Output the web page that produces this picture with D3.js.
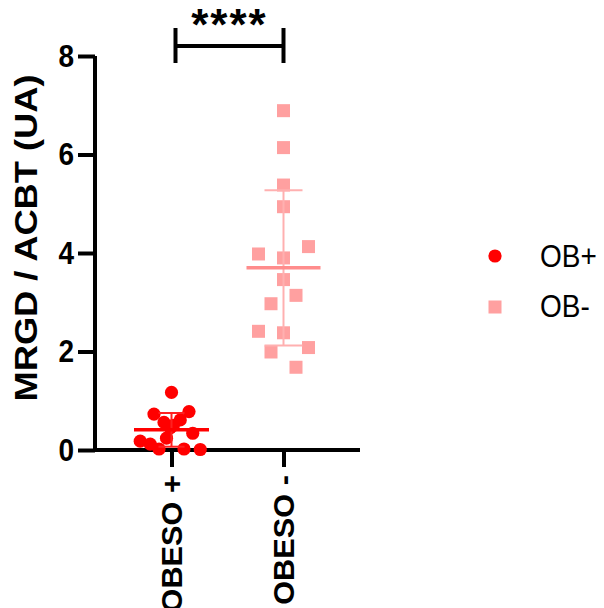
<!DOCTYPE html>
<html>
<head>
<meta charset="utf-8">
<script src="https://cdn.jsdelivr.net/npm/d3@7"></script>
<style>
  html, body { margin: 0; padding: 0; background: #fff; }
  svg { display: block; font-family: "Liberation Sans", Arial, sans-serif; }
</style>
</head>
<body>
<svg id="chart" width="604" height="608"></svg>
<script>
// ---- data ----
const categories = ["OBESO +", "OBESO -"];
const seriesNames = ["OB+", "OB-"];
const obPlusValues = [1.17, 0.78, 0.73, 0.61, 0.56, 0.50, 0.45, 0.34, 0.24, 0.18, 0.12, 0.02, 0.02, 0.01];
const obPlusJitter = [0, 1.4, -1.4, 0.7, -0.6, 0.15, -0.1, 1.7, -0.4, -2.5, -1.7, -1.0, 1.0, 2.3];
const obMinusValues = [6.89, 6.14, 5.38, 4.94, 4.13, 3.98, 3.90, 3.46, 3.14, 2.97, 2.41, 2.38, 2.08, 1.99, 1.68];
const obMinusJitter = [0, 0, 0, 0, 2, -2, 0, 0, 1, -1, -2, 0, 2, -1, 1];
const yTicks = [0, 2, 4, 6, 8];
const yTitle = "MRGD / ACBT (UA)";
const significance = "****";

const svg = d3.select("#chart");
const font = "'Liberation Sans', Arial, sans-serif";
const vStretch = 1.14;

const y = d3.scaleLinear().domain([0, 8]).range([450, 56]);
const x = d3.scalePoint().domain(categories).range([95, 360]).padding(0.683);
const jitterUnit = 12.5;

const colors = { "OB+": "#ff0000", "OB-": "#ffa0a0" };

// axes
const yAxis = d3.axisLeft(y).tickValues(yTicks).tickSize(17).tickSizeOuter(0).tickPadding(4);
const gy = svg.append("g").attr("transform", "translate(95,0)").call(yAxis);
gy.select(".domain").attr("stroke", "#000").attr("stroke-width", 4).attr("d", "M0,56V452");
gy.selectAll(".tick line").attr("stroke", "#000").attr("stroke-width", 4);
gy.selectAll(".tick text").attr("font-family", font).attr("font-weight", "bold").attr("font-size", 28).attr("fill", "#000")
  .attr("transform", `scale(1,${vStretch})`);

const xAxis = d3.axisBottom(x).tickSize(17).tickSizeOuter(0).tickPadding(6);
const gx = svg.append("g").attr("transform", "translate(0,450)").call(xAxis);
gx.select(".domain").attr("stroke", "#000").attr("stroke-width", 4).attr("d", "M93,0H360");
gx.selectAll(".tick line").attr("stroke", "#000").attr("stroke-width", 4);
gx.selectAll(".tick text")
  .attr("font-family", font).attr("font-weight", "bold").attr("font-size", 29).attr("fill", "#000")
  .attr("transform", "rotate(-90)")
  .attr("text-anchor", "end")
  .attr("dy", "0.36em")
  .attr("x", -25)
  .attr("y", 0)
  .attr("textLength", function () { return this.getComputedTextLength() * 1.06; })
  .attr("lengthAdjust", "spacingAndGlyphs");

// y title
const yt = svg.append("text")
  .attr("transform", `translate(37,${y(4) - 15}) rotate(-90)`)
  .attr("text-anchor", "middle")
  .attr("font-family", font).attr("font-weight", "bold").attr("font-size", 31)
  .attr("fill", "#000")
  .text(yTitle);
yt.attr("textLength", yt.node().getComputedTextLength() * 1.17).attr("lengthAdjust", "spacingAndGlyphs");

// error bars (mean ± SD)
function drawStats(values, cat, meanW, capHalf, sdColor, meanColor) {
  const m = d3.mean(values), s = d3.deviation(values);
  const cx = x(cat);
  const g = svg.append("g");
  g.append("line").attr("x1", cx).attr("x2", cx).attr("y1", y(m + s)).attr("y2", y(Math.max(0, m - s)))
    .attr("stroke", sdColor).attr("stroke-width", 2);
  g.append("line").attr("x1", cx - capHalf).attr("x2", cx + capHalf).attr("y1", y(m + s)).attr("y2", y(m + s))
    .attr("stroke", sdColor).attr("stroke-width", 2);
  if (m - s > 0) {
    g.append("line").attr("x1", cx - capHalf).attr("x2", cx + capHalf).attr("y1", y(m - s)).attr("y2", y(m - s))
      .attr("stroke", sdColor).attr("stroke-width", 2);
  }
  g.append("line").attr("x1", cx - meanW).attr("x2", cx + meanW).attr("y1", y(m)).attr("y2", y(m))
    .attr("stroke", meanColor).attr("stroke-width", 3.5);
}

// OB- points (squares)
const sq = 13;
svg.append("g").selectAll("rect").data(obMinusValues).join("rect")
  .attr("x", (d, i) => x(categories[1]) + obMinusJitter[i] * jitterUnit - sq / 2)
  .attr("y", d => y(d) - sq / 2)
  .attr("width", sq).attr("height", sq)
  .attr("fill", colors["OB-"]);
drawStats(obMinusValues, categories[1], 37, 19, "#ffb0b0", "#ff8c8c");

// OB+ points (circles)
svg.append("g").selectAll("circle").data(obPlusValues).join("circle")
  .attr("cx", (d, i) => x(categories[0]) + obPlusJitter[i] * jitterUnit)
  .attr("cy", d => y(d))
  .attr("r", 6.6)
  .attr("fill", colors["OB+"]);
drawStats(obPlusValues, categories[0], 37.5, 13, "#ff2020", "#ff0000");

// significance bracket
const bx1 = x(categories[0]) + 4, bx2 = x(categories[1]);
const bracket = svg.append("g").attr("stroke", "#000").attr("stroke-width", 4).attr("fill", "none");
bracket.append("line").attr("x1", bx1).attr("x2", bx1).attr("y1", 28).attr("y2", 63);
bracket.append("line").attr("x1", bx2).attr("x2", bx2).attr("y1", 28).attr("y2", 63);
bracket.append("line").attr("x1", bx1).attr("x2", bx2).attr("y1", 46).attr("y2", 46);
svg.append("text")
  .attr("x", (bx1 + bx2) / 2).attr("y", 40)
  .attr("text-anchor", "middle")
  .attr("font-family", font).attr("font-weight", "bold").attr("font-size", 44)
  .attr("letter-spacing", 2)
  .attr("fill", "#000")
  .text(significance);

// legend
const legend = svg.append("g");
legend.append("circle").attr("cx", 495).attr("cy", 256).attr("r", 6.6).attr("fill", colors["OB+"]);
legend.append("rect").attr("x", 495 - sq / 2).attr("y", 307 - sq / 2).attr("width", sq).attr("height", sq).attr("fill", colors["OB-"]);
legend.selectAll("text.lg").data(seriesNames).join("text")
  .attr("class", "lg")
  .attr("transform", (d, i) => `translate(540,${[256, 306][i]}) scale(1,${vStretch})`)
  .attr("dy", "0.36em")
  .attr("font-family", font).attr("font-size", 28).attr("fill", "#000")
  .text(d => d);
</script>
</body>
</html>
